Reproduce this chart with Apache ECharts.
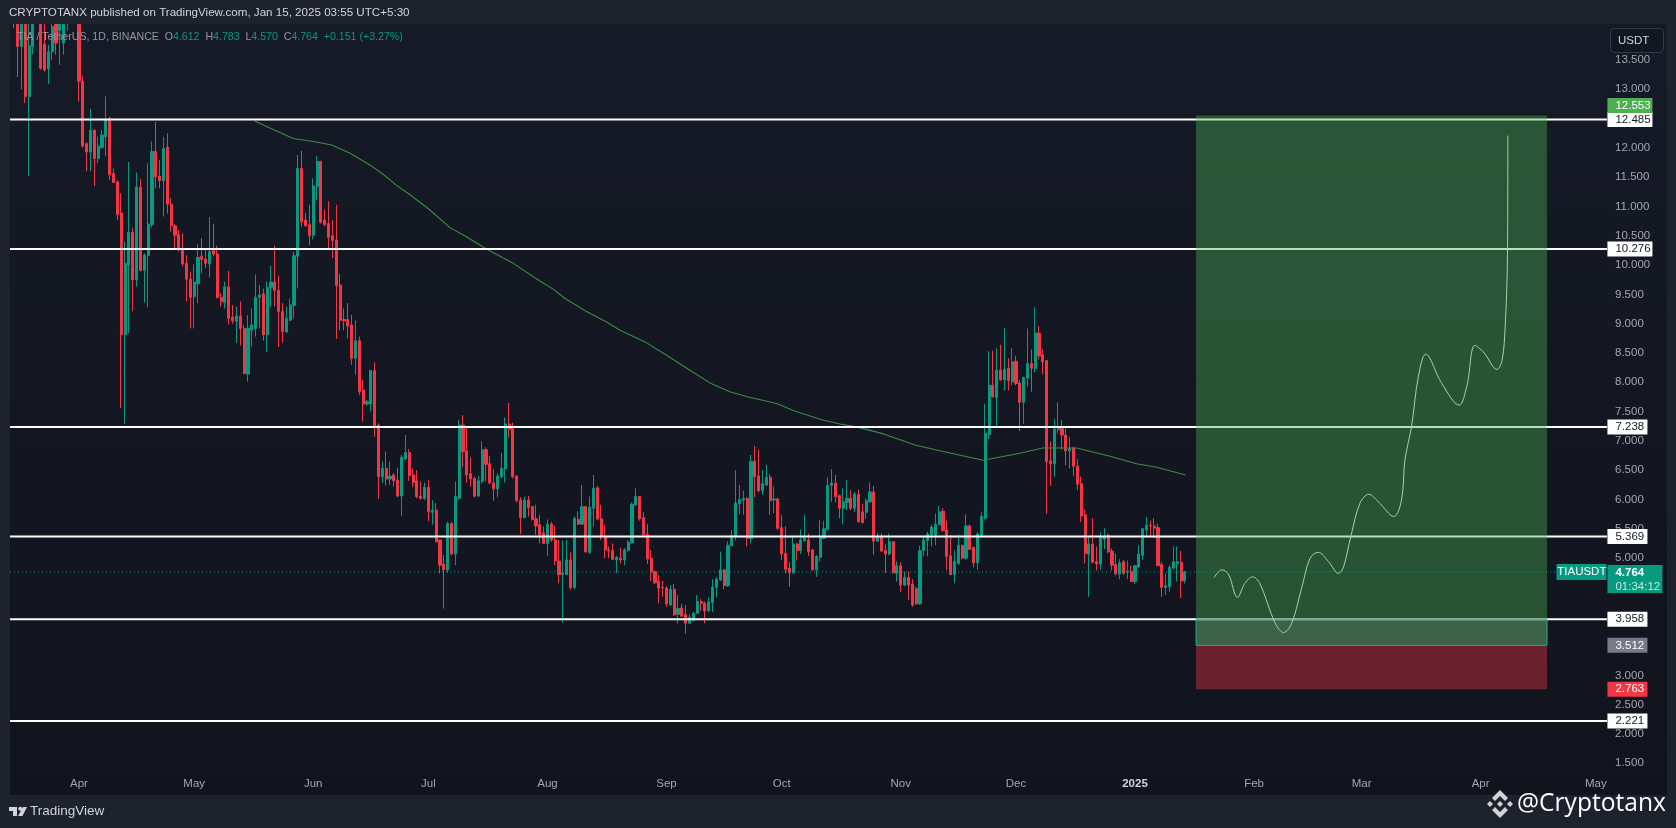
<!DOCTYPE html>
<html><head><meta charset="utf-8"><style>html,body{margin:0;padding:0;background:#1e222d}#c{width:1676px;height:828px}</style>
<script src="https://cdn.jsdelivr.net/npm/echarts@6/dist/echarts.min.js"></script></head><body><div id="c"></div>
<script>
const firstDay = '2024-03-14';
const dayCount = 431;
const monthNames = ['2025','Feb','Mar','Apr','May','Jun','Jul','Aug','Sep','Oct','Nov','Dec'];
const opens = [15.0,15.1,13.73,15.0,12.875,13.73,15.2,14.6,13.77,13.35,13.64,14.6,14.0,13.79,14.3,15.0,15.4,
14.9,13.14,12.07,11.93,12.30,11.82,12.01,12.19,12.50,11.56,
11.42,10.89,8.81,10.0,10.56,9.75,11.33,9.91,10.16,10.69,
11.94,11.52,11.44,12.01,11.04,10.67,10.52,10.29,10.03,9.76,
9.46,9.68,10.15,10.10,10.02,10.25,10.19,9.45,9.36,9.63,
9.11,9.04,9.13,8.92,8.14,8.89,8.92,9.45,9.51,8.81,
9.62,9.71,9.57,9.21,8.86,9.06,9.31,10.15,11.65,10.77,
10.69,10.51,11.34,11.77,10.77,10.71,10.50,10.43,9.66,9.07,
9.07,8.98,8.41,8.71,7.87,7.63,7.63,8.20,7.27,6.39,
6.53,6.35,6.42,6.33,6.06,6.69,6.80,6.42,6.32,6.06,
6.02,6.21,5.78,5.82,5.31,4.90,4.80,5.59,5.07,6.02,
7.27,6.83,6.44,6.36,6.06,6.31,6.85,6.61,6.28,6.18,
6.39,6.52,7.29,7.23,6.40,5.99,5.69,5.99,5.88,5.67,
5.57,5.43,5.25,5.58,5.31,4.95,4.72,4.72,4.97,4.50,
5.66,5.58,5.88,5.10,5.85,6.20,5.67,5.37,5.14,5.13,
4.97,5.0,4.97,5.13,5.26,5.91,6.05,5.69,5.41,5.0,
4.77,4.60,4.50,4.49,4.20,4.47,4.04,4.15,4.04,3.89,
3.93,4.06,4.26,4.23,4.10,4.24,4.50,4.63,4.80,4.53,
5.21,5.37,5.93,5.99,6.02,5.33,6.65,6.40,6.15,6.25,
6.38,5.99,6.01,5.52,5.08,4.83,4.75,5.24,5.13,5.30,
5.31,5.14,4.80,5.01,5.34,5.49,6.24,6.28,6.07,5.85,
5.95,6.02,5.85,6.09,5.79,5.78,5.96,6.13,5.29,5.37,
5.13,5.07,5.28,4.74,4.87,4.54,4.67,4.56,4.48,4.22,
5.13,5.30,5.40,5.40,5.57,5.80,5.48,5.04,4.72,4.91,
5.22,5.0,5.55,5.18,4.92,5.39,5.68,7.11,7.95,7.74,
8.21,8.04,8.24,8.01,8.36,7.99,7.66,8.07,8.32,8.23,
8.84,8.47,8.37,6.66,6.61,7.19,7.21,7.10,6.83,6.88,
6.57,6.27,5.74,5.07,5.24,4.94,4.90,5.32,5.39,5.12,
4.89,4.73,4.94,4.76,4.77,4.60,4.85,5.05,5.48,5.56,
5.55,5.52,4.89,4.50,4.51,4.83,4.91,4.93,4.612];
const closes = [14.6,13.73,14.9,12.875,13.74,14.6,15.6,13.36,13.33,13.64,14.07,13.79,14.7,14.5,14.8,15.4,15.0,
13.14,12.03,11.93,12.30,11.82,12.03,12.22,12.48,11.54,11.41,
10.86,8.81,10.03,10.56,9.75,11.33,9.91,10.17,10.70,11.94,
11.51,11.44,11.99,11.04,10.67,10.51,10.28,10.02,9.76,9.45,
9.71,10.13,10.10,10.03,10.23,10.19,9.45,9.38,9.63,9.09,
9.05,9.13,8.92,8.15,8.92,8.98,9.45,9.49,8.81,9.62,
9.71,9.57,9.21,8.87,9.09,9.32,10.16,11.65,10.74,10.67,
10.50,11.35,11.77,10.73,10.69,10.47,10.42,9.65,9.06,9.05,
8.96,8.41,8.71,7.84,7.63,7.67,8.20,7.24,6.39,6.53,
6.35,6.40,6.32,6.06,6.72,6.80,6.41,6.29,6.05,6.02,
6.21,5.79,5.82,5.28,4.88,4.80,5.59,5.07,6.05,7.27,
6.82,6.42,6.35,6.06,6.32,6.85,6.60,6.28,6.18,6.40,
6.53,7.29,7.20,6.39,5.98,5.69,5.99,5.86,5.66,5.55,
5.40,5.25,5.58,5.31,4.95,4.72,4.75,4.97,4.50,5.68,
5.58,5.88,5.11,5.87,6.19,5.67,5.37,5.14,5.12,4.98,
5.01,4.97,5.14,5.27,5.92,6.05,5.67,5.40,4.99,4.76,
4.58,4.49,4.49,4.22,4.47,4.03,4.14,4.01,3.89,3.99,
4.06,4.26,4.23,4.10,4.25,4.50,4.64,4.80,4.53,5.22,
5.38,5.94,6.0,6.02,5.34,6.65,6.39,6.15,6.27,6.38,
5.98,6.01,5.51,5.07,4.81,4.75,5.24,5.13,5.31,5.34,
5.11,4.80,5.03,5.37,5.50,6.24,6.28,6.05,5.85,5.96,
6.02,5.85,6.09,5.62,5.61,5.98,6.13,5.29,5.37,5.12,
5.07,5.28,4.75,4.87,4.54,4.67,4.54,4.20,4.22,5.13,
5.31,5.41,5.53,5.58,5.79,5.47,5.03,4.72,4.94,5.22,
5.0,5.55,5.15,4.92,5.41,5.71,7.13,7.95,7.75,8.21,
8.04,8.22,8.03,8.35,7.98,7.66,8.08,8.32,8.24,8.84,
8.45,8.35,6.65,6.61,7.20,7.21,7.10,6.83,6.87,6.57,
6.26,5.72,5.08,5.24,4.93,4.90,5.35,5.37,5.11,4.88,
4.73,4.92,4.74,4.78,4.60,4.87,5.07,5.50,5.56,5.55,
5.51,4.87,4.50,4.53,4.84,4.94,4.94,4.61,4.764];
const highs = [16.0,15.6,15.5,15.3,14.3,15.2,16.0,15.2,14.3,13.76,14.6,15.0,15.0,15.0,15.2,15.8,16.0,
15.2,13.22,12.1,12.67,12.32,12.19,12.31,12.88,12.53,11.65,
11.45,11.23,10.40,11.76,10.63,11.58,11.47,10.20,11.74,12.11,
12.44,11.79,12.19,12.25,11.14,10.70,10.6,10.54,10.17,9.89,
10.01,10.36,10.46,10.29,10.82,10.70,10.33,9.52,9.72,9.90,
9.32,9.29,9.38,8.98,9.15,9.26,9.84,9.66,9.60,9.72,
9.99,10.33,9.82,9.35,9.29,9.43,10.23,11.88,11.95,10.89,
11.03,11.48,11.86,11.78,10.95,11.09,10.77,11.03,9.85,9.26,
9.35,9.15,9.06,8.78,8.04,7.70,8.21,8.34,7.30,6.65,
6.82,6.65,6.45,6.54,6.76,7.10,6.86,6.53,6.50,6.31,
6.29,6.33,5.99,5.94,5.32,5.05,5.62,5.62,6.31,7.36,
7.44,7.24,6.72,6.39,6.40,6.99,6.89,6.74,6.52,6.45,
6.80,7.40,7.65,7.31,6.42,6.04,6.05,6.06,5.89,5.91,
5.74,5.54,5.66,5.62,5.55,5.31,5.30,5.31,5.10,5.71,
5.80,6.25,5.89,6.05,6.42,6.23,5.91,5.57,5.20,5.25,
5.04,5.18,5.17,5.31,5.95,6.19,6.06,5.78,5.58,5.14,
4.79,4.71,4.61,4.52,4.54,4.56,4.37,4.22,4.20,4.04,
4.08,4.37,4.30,4.26,4.33,4.64,4.68,5.11,4.81,5.29,
5.48,6.50,6.25,6.15,6.04,6.76,6.91,6.85,6.50,6.59,
6.43,6.22,6.03,5.74,5.54,4.93,5.36,5.26,5.49,5.74,
5.42,5.16,5.05,5.65,5.64,6.38,6.52,6.42,6.08,6.19,
6.33,6.16,6.13,6.17,5.93,6.02,6.29,6.23,5.43,5.42,
5.24,5.42,5.28,4.95,4.93,4.77,4.77,4.64,4.51,5.21,
5.38,5.45,5.57,5.76,5.89,5.85,5.64,5.40,5.13,5.40,
5.22,5.75,5.57,5.20,5.45,5.79,7.63,8.53,8.54,8.58,
8.64,8.93,8.41,8.58,8.45,8.04,8.10,8.92,8.56,9.28,
8.96,8.56,8.38,6.99,7.37,7.66,7.36,7.24,7.07,6.90,
6.69,6.39,5.83,5.37,5.68,5.20,5.44,5.51,5.42,5.17,
5.08,4.98,4.97,4.96,4.87,4.88,5.22,5.51,5.70,5.64,
5.68,5.59,4.94,4.74,4.88,5.20,5.20,5.12,4.783];
const lows = [14.04,13.21,13.0,12.77,11.52,13.6,14.5,13.33,13.30,13.09,13.5,13.59,13.42,13.59,14.0,14.3,14.4,
12.79,12.0,11.60,11.60,11.35,11.74,11.98,11.86,11.45,11.40,
10.77,7.56,7.29,8.84,9.21,9.63,9.89,9.36,9.28,10.64,
11.31,11.31,10.83,10.88,10.57,10.26,10.23,9.98,9.38,8.92,
8.92,9.35,9.86,9.95,9.79,10.15,9.43,9.29,9.26,8.99,
9.0,8.67,8.63,8.14,8.01,8.61,8.78,8.92,8.71,8.52,
9.29,9.29,8.60,8.68,8.84,9.04,9.09,9.60,10.66,10.66,
10.34,10.44,11.11,10.71,10.66,10.29,10.12,8.74,8.89,8.89,
8.75,8.30,8.13,7.78,7.33,7.60,7.50,7.07,6.01,6.28,
6.24,6.25,6.22,6.04,5.72,6.68,6.32,6.21,6.02,6.0,
5.99,5.63,5.57,5.27,4.74,4.14,4.75,5.05,4.88,5.99,
6.55,6.29,6.22,6.03,6.05,6.27,6.31,6.27,5.98,6.04,
6.36,6.29,7.06,6.36,5.95,5.41,5.68,5.71,5.64,5.40,
5.25,5.24,5.04,5.28,4.88,4.57,3.90,4.71,4.46,4.47,
5.57,5.57,5.09,5.07,5.54,5.65,5.31,5.0,5.0,4.97,
4.75,4.91,4.88,5.11,5.25,5.89,5.64,5.38,4.90,4.61,
4.56,4.23,4.34,4.17,4.19,4.02,3.88,4.0,3.71,3.87,
3.92,4.05,4.10,3.89,4.08,4.08,4.33,4.61,4.47,4.51,
5.21,5.30,5.75,5.74,5.20,5.25,6.04,6.12,6.08,6.23,
5.74,5.77,5.48,4.97,4.74,4.51,4.74,4.97,5.07,5.28,
5.04,4.79,4.68,4.94,5.32,5.47,5.96,5.95,5.68,5.58,
5.82,5.82,5.79,5.61,5.59,5.67,5.95,5.06,5.28,5.11,
4.75,5.05,4.74,4.60,4.42,4.52,4.29,4.17,4.20,4.20,
5.03,5.03,5.20,5.22,5.57,5.45,4.80,4.71,4.57,4.88,
4.98,4.97,5.14,4.84,4.80,5.35,5.66,7.03,7.74,7.24,
8.03,7.86,7.86,7.95,7.95,7.17,7.29,7.93,7.84,8.17,
8.39,8.14,5.76,6.23,6.39,7.13,6.85,6.59,6.53,6.40,
6.16,5.62,4.91,4.34,4.91,4.79,4.80,5.15,5.08,4.79,
4.71,4.64,4.71,4.64,4.59,4.56,4.84,4.97,5.37,5.35,
5.34,4.87,4.34,4.37,4.43,4.80,4.60,4.32,4.570];
// moving average: day offset from 1 Apr 2024, price
const maDays = [45.8,49.7,55.8,61,65.8,70.6,76.2,79.2,82.7,86.2,91.4,96.6,101,106.2,113.1,120,123.5,126.6,131.8,137.4,140.9,147.4,152.6,158.3,164.3,169.5,174.3,181.7,186,193.4,198.2,202.5,209.5,217.7,225,235.5,245,251,259.8,268.5,275.4,280.6,288.2];
const maPrices = [12.46,12.34,12.16,12.11,12.05,11.91,11.69,11.55,11.36,11.2,10.94,10.64,10.48,10.27,10.03,9.73,9.59,9.43,9.22,9.03,8.89,8.69,8.48,8.24,7.99,7.84,7.75,7.64,7.52,7.36,7.29,7.24,7.12,6.93,6.82,6.67,6.79,6.88,6.88,6.74,6.61,6.55,6.42];
// hand-drawn projection path
const pathDays = [295.6,297.6,299.3,301.7,303.6,305.6,307.5,311.5,313.7,315.8,318.4,320.6,322.7,325.4,328,329.3,331.2,333.6,335.9,338.4,342.4,344.4,345.3,347,348.8,350.7,354.9,359.4,361.4,363.5,365.7,369.3,370.6,371.4,372,372.1];
const pathPrices = [4.67,4.80,4.73,4.33,4.57,4.68,4.57,3.89,3.73,3.89,4.49,5.0,5.10,4.94,4.74,4.85,5.37,5.94,6.09,5.96,5.71,5.99,6.68,7.24,8.10,8.48,7.98,7.61,7.93,8.63,8.52,8.22,8.38,8.95,10.2,12.21];
const levels = [12.485,10.276,7.238,5.369,3.958,2.221];
const lastPrice = 4.764;
const countdown = '01:34:12';
const symbolTag = 'TIAUSDT';
const takeProfit = 12.553, entry = 3.512, stopLoss = 2.763, zoneStart = 290.9, zoneEnd = 382.3, lineStart = -17.96, lineEnd = 397.9, lastTagEnd = 385;
const UP = '#089981', DOWN = '#f23645';
const FONT = '"Liberation Sans", Arial, sans-serif';

const startMs = Date.parse(firstDay + 'T00:00:00Z');
const categories = [];
for (let i = 0; i < dayCount; i++) categories.push(new Date(startMs + i * 864e5).toISOString().slice(0, 10));
const candles = [['-', '-', '-', '-'], ...opens.map((o, i) => [o, closes[i], lows[i], highs[i]])];

function tag(val, text, bg, fg, w, dy) {
  return { value: [lineEnd, val], label: { show: true, position: 'right', distance: 0, formatter: text, backgroundColor: bg, color: fg, opacity: 1,
    width: w, height: 15, lineHeight: 15, padding: [0, 0, 0, 8], fontSize: 11.5, fontFamily: FONT, offset: [0, dy || 0] } };
}
const tags = [
  ...levels.map(v => tag(v, v.toFixed(3), '#ffffff', '#131722', v >= 10 ? 37 : 32)),
  tag(takeProfit, takeProfit.toFixed(3), '#4caf50', '#ffffff', 37, -10),
  tag(entry, entry.toFixed(3), '#787b86', '#ffffff', 32),
  tag(stopLoss, stopLoss.toFixed(3), '#f23645', '#ffffff', 32, 0),
  { value: [lineEnd, lastPrice], label: { show: true, position: 'right', distance: 0, opacity: 1, formatter: '{a|' + lastPrice.toFixed(3) + '}\n{b|' + countdown + '}', backgroundColor: UP, width: 47, height: 28, padding: [0, 0, 0, 8], offset: [0, 7],
      rich: { a: { color: '#fff', fontSize: 11.5, fontWeight: 'bold', lineHeight: 15, fontFamily: FONT }, b: { color: '#c8e6df', fontSize: 11.5, lineHeight: 13, fontFamily: FONT } } } },
  { value: [lineEnd, lastPrice], label: { show: true, position: 'left', distance: 0, opacity: 1, formatter: symbolTag, backgroundColor: UP, color: '#fff', width: 45, height: 16, lineHeight: 16, padding: [0, 0, 0, 5], fontSize: 11.5, fontFamily: FONT } }
];

const zones = [
  [zoneStart, takeProfit, zoneEnd, entry, 'rgba(76,175,80,0.4)', null],
  [zoneStart, entry, zoneEnd, stopLoss, 'rgba(242,54,69,0.4)', null],
  [zoneStart, levels[4], zoneEnd, entry, 'rgba(255,255,255,0.1)', '#22ab94']
];

const levelSeries = levels.map(v => ({
  type: 'line', xAxisIndex: 1, yAxisIndex: 0, z: 3, silent: true, symbol: 'none',
  data: [[lineStart, v], [lineEnd, v]], lineStyle: { color: '#ffffff', width: 2 }
}));

const chart = echarts.init(document.getElementById('c'), null, { renderer: 'canvas' });
chart.setOption({
  animation: false,
  backgroundColor: '#1e222d',
  grid: { left: 7.96, top: 1.4, width: 1655.04, height: 791.15, containLabel: false },
  xAxis: [
    { type: 'category', data: categories, boundaryGap: true,
      axisLine: { show: false }, axisTick: { show: false }, splitLine: { show: false },
      axisLabel: { inside: true, margin: 3, color: '#a3a6b1', fontSize: 11.5, fontFamily: FONT, hideOverlap: false,
        interval: (i, v) => v.endsWith('-01'),
        formatter: v => { const n = monthNames[+v.slice(5, 7) - 1]; return n === '2025' ? '{y|2025}' : n; },
        rich: { y: { color: '#d1d4dc', fontWeight: 'bold', fontSize: 11.5, fontFamily: FONT } } } },
    { type: 'value', min: -18.5, max: 412.5, show: false, splitLine: { show: false } }
  ],
  yAxis: { type: 'value', position: 'right', min: 1, max: 14.5, interval: 0.5,
    axisLine: { show: false }, axisTick: { show: false }, splitLine: { show: false },
    axisLabel: { inside: true, align: 'left', margin: 48, color: '#a3a6b1', fontSize: 11.5, fontFamily: FONT,
      formatter: v => (v < 1.5 || v > 13.5) ? '' : v.toFixed(3) } },
  series: [
    { type: 'candlestick', xAxisIndex: 0, yAxisIndex: 0, z: 2, barWidth: 2.6, data: candles, silent: true,
      itemStyle: { color: UP, color0: DOWN, borderColor: UP, borderColor0: DOWN, borderWidth: 1 } },
    { type: 'line', xAxisIndex: 1, yAxisIndex: 0, z: 3, symbol: 'none', silent: true,
      data: maDays.map((d, i) => [d, maPrices[i]]), lineStyle: { color: '#3e8a45', width: 1.1 } },
    ...levelSeries,
    { type: 'custom', xAxisIndex: 1, yAxisIndex: 0, z: 4, silent: true, data: zones, encode: { x: [0, 2], y: [1, 3] },
      renderItem: (params, api) => {
        const z = zones[params.dataIndex];
        const a = api.coord([z[0], z[1]]), b = api.coord([z[2], z[3]]);
        return { type: 'rect', shape: { x: a[0], y: a[1], width: b[0] - a[0], height: b[1] - a[1] },
          style: { fill: z[4], stroke: z[5] || 'none', lineWidth: z[5] ? 1 : 0 } };
      } },
    { type: 'line', xAxisIndex: 1, yAxisIndex: 0, z: 5, symbol: 'none', silent: true,
      data: [[lineStart, lastPrice], [lastTagEnd, lastPrice]], lineStyle: { color: UP, width: 1, type: [1, 3] } },
    { type: 'line', xAxisIndex: 1, yAxisIndex: 0, z: 5, symbol: 'none', silent: true, smooth: 0.35,
      data: pathDays.map((d, i) => [d, pathPrices[i]]), lineStyle: { color: '#a3d4a9', width: 1 } },
    { type: 'scatter', xAxisIndex: 1, yAxisIndex: 0, z: 7, silent: true, symbolSize: 1, itemStyle: { color: 'transparent', opacity: 1 }, data: tags, clip: false }
  ],
  graphic: { elements: [
    { type: 'rect', z: -5, silent: true, shape: { x: 10, y: 24, width: 1657, height: 771 },
      style: { fill: new echarts.graphic.LinearGradient(0, 0, 0, 1, [{ offset: 0, color: '#161a26' }, { offset: 1, color: '#11141d' }]) } },
    { type: 'rect', z: 50, silent: true, shape: { x: 0, y: 0, width: 1676, height: 24 }, style: { fill: '#1e222d' } },
    { type: 'rect', z: 50, silent: true, shape: { x: 0, y: 0, width: 10, height: 795 }, style: { fill: '#1e222d' } },
    { type: 'text', z: 51, silent: true, x: 9, y: 7, style: { text: 'CRYPTOTANX published on TradingView.com, Jan 15, 2025 03:55 UTC+5:30', fill: '#d1d4dc', font: '11.6px ' + FONT, textBaseline: 'top' } },
    { type: 'text', z: 51, silent: true, x: 17, y: 32, style: {
        text: '{g|TIA / TetherUS, 1D, BINANCE  O}{t|4.612}{g|  H}{t|4.783}{g|  L}{t|4.570}{g|  C}{t|4.764}{t|  +0.151 (+3.27%)}',
        rich: { g: { fill: '#9598a1', font: '10.6px ' + FONT }, t: { fill: '#089981', font: '10.6px ' + FONT } } } },
    { type: 'rect', z: 51, silent: true, shape: { x: 1610.5, y: 28.5, width: 53, height: 24, r: 4 }, style: { fill: '#131722', stroke: '#363a45', lineWidth: 1 } },
    { type: 'text', z: 52, silent: true, x: 1618, y: 35, style: { text: 'USDT', fill: '#d1d4dc', font: '11.5px ' + FONT } },
    // TradingView mark
    { type: 'polygon', z: 51, silent: true, shape: { points: [[9, 807], [17, 807], [17, 816], [13, 816], [13, 811], [9, 811]] }, style: { fill: '#d1d4dc' } },
    { type: 'circle', z: 51, silent: true, shape: { cx: 20.3, cy: 808.8, r: 2 }, style: { fill: '#d1d4dc' } },
    { type: 'polygon', z: 51, silent: true, shape: { points: [[23, 807], [27, 807], [22.5, 816], [18, 816]] }, style: { fill: '#d1d4dc' } },
    { type: 'text', z: 51, silent: true, x: 30, y: 804, style: { text: 'TradingView', fill: '#d1d4dc', font: '13.5px ' + FONT } },
    // exchange mark
    ...[[[1500, 790], [1508, 798], [1505, 801], [1500, 796], [1495, 801], [1492, 798]],
        [[1500, 818], [1508, 810], [1505, 807], [1500, 812], [1495, 807], [1492, 810]],
        [[1500, 801], [1503, 804], [1500, 807], [1497, 804]],
        [[1490, 801], [1493, 804], [1490, 807], [1487, 804]],
        [[1510, 801], [1513, 804], [1510, 807], [1507, 804]]].map(p => ({ type: 'polygon', z: 60, silent: true, shape: { points: p }, style: { fill: '#d4d4d4' } })),
    { type: 'text', z: 60, silent: true, x: 1517, y: 791, style: { text: '@Cryptotanx', fill: '#ffffff', font: '24.6px "Open Sans", ' + FONT } }
  ] }
});
</script></body></html>
